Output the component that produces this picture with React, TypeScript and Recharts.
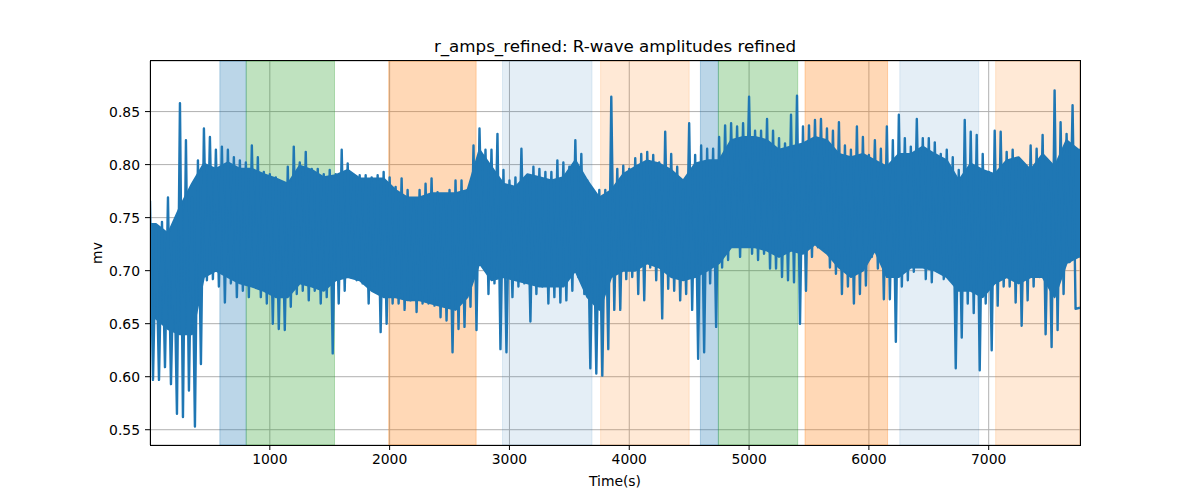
import { ComposedChart, Line, Area, XAxis, YAxis, CartesianGrid, ReferenceArea } from 'recharts';

// r-wave amplitude excursions, every 50 s (highest / lowest spike)
const stepSeconds = 50;
const peakHi = [
    0.766, 0.738, 0.746, 0.769, 0.727, 0.858, 0.823, 0.769, 0.804, 0.834, 0.826, 0.814, 0.817, 0.814, 0.807, 0.804, 0.802, 0.818, 0.807, 0.793, 0.791, 0.788, 0.779, 0.798, 0.817, 0.802,
    0.812, 0.796, 0.796, 0.791, 0.795, 0.791, 0.814, 0.801, 0.790, 0.790, 0.790, 0.788, 0.790, 0.793, 0.788, 0.779, 0.787, 0.776, 0.766, 0.776, 0.782, 0.787, 0.774, 0.769, 0.776, 0.785,
    0.785, 0.776, 0.818, 0.834, 0.814, 0.814, 0.829, 0.795, 0.785, 0.788, 0.815, 0.788, 0.798, 0.796, 0.793, 0.793, 0.804, 0.802, 0.798, 0.823, 0.810, 0.785, 0.773, 0.776, 0.776, 0.864,
    0.796, 0.799, 0.796, 0.806, 0.810, 0.812, 0.809, 0.802, 0.831, 0.810, 0.798, 0.776, 0.839, 0.809, 0.818, 0.815, 0.815, 0.826, 0.837, 0.839, 0.836, 0.839, 0.864, 0.832, 0.832, 0.843,
    0.832, 0.825, 0.820, 0.847, 0.865, 0.836, 0.837, 0.842, 0.843, 0.834, 0.832, 0.840, 0.818, 0.814, 0.836, 0.826, 0.809, 0.823, 0.815, 0.836, 0.823, 0.847, 0.825, 0.817, 0.843, 0.825,
    0.825, 0.821, 0.810, 0.814, 0.807, 0.795, 0.842, 0.831, 0.828, 0.810, 0.793, 0.832, 0.831, 0.812, 0.814, 0.806, 0.795, 0.818, 0.815, 0.828, 0.785, 0.870, 0.840, 0.829, 0.856,
];
const peakLo = [
    0.597, 0.597, 0.609, 0.593, 0.565, 0.562, 0.587, 0.553, 0.612, 0.691, 0.692, 0.685, 0.670, 0.688, 0.675, 0.681, 0.675, 0.685, 0.675, 0.669, 0.650, 0.645, 0.644, 0.666, 0.678, 0.681,
    0.672, 0.681, 0.669, 0.675, 0.622, 0.669, 0.681, 0.694, 0.691, 0.688, 0.669, 0.686, 0.642, 0.650, 0.669, 0.669, 0.663, 0.672, 0.661, 0.669, 0.669, 0.667, 0.656, 0.653, 0.623, 0.645,
    0.647, 0.666, 0.644, 0.707, 0.678, 0.688, 0.626, 0.623, 0.675, 0.685, 0.688, 0.652, 0.678, 0.685, 0.669, 0.675, 0.670, 0.672, 0.681, 0.694, 0.678, 0.608, 0.603, 0.601, 0.626, 0.663,
    0.663, 0.692, 0.694, 0.678, 0.672, 0.703, 0.691, 0.655, 0.683, 0.681, 0.672, 0.678, 0.663, 0.617, 0.623, 0.688, 0.647, 0.703, 0.710, 0.725, 0.713, 0.732, 0.716, 0.710, 0.716, 0.702,
    0.702, 0.694, 0.691, 0.689, 0.650, 0.681, 0.713, 0.722, 0.722, 0.703, 0.697, 0.678, 0.685, 0.669, 0.678, 0.686, 0.713, 0.702, 0.673, 0.673, 0.633, 0.685, 0.691, 0.699, 0.710, 0.692,
    0.689, 0.699, 0.692, 0.694, 0.608, 0.637, 0.669, 0.660, 0.606, 0.669, 0.625, 0.667, 0.685, 0.685, 0.670, 0.648, 0.672, 0.685, 0.694, 0.640, 0.628, 0.644, 0.678, 0.708, 0.664,
];
const endTime = 7762;
const endValue = 0.665;

// edges of the solid part of the band, every 100 s (centred on each interval)
const fillStep = 100;
const fillHi = [
    0.744, 0.735, 0.760, 0.782, 0.801, 0.796, 0.802, 0.796, 0.796, 0.791, 0.787, 0.782, 0.799, 0.795, 0.788, 0.790, 0.795, 0.787, 0.787, 0.787, 0.776, 0.769, 0.769, 0.773, 0.773, 0.773,
    0.776, 0.814, 0.798, 0.782, 0.779, 0.791, 0.788, 0.785, 0.788, 0.804, 0.785, 0.769, 0.776, 0.791, 0.798, 0.804, 0.801, 0.795, 0.785, 0.801, 0.804, 0.804, 0.823, 0.826, 0.826, 0.823,
    0.814, 0.817, 0.820, 0.826, 0.823, 0.810, 0.807, 0.810, 0.804, 0.798, 0.810, 0.810, 0.817, 0.810, 0.804, 0.785, 0.801, 0.795, 0.791, 0.804, 0.807, 0.795, 0.810, 0.798, 0.823, 0.814,
];
const fillLo = [
    0.655, 0.645, 0.640, 0.640, 0.694, 0.700, 0.694, 0.688, 0.685, 0.681, 0.675, 0.675, 0.688, 0.685, 0.681, 0.691, 0.694, 0.691, 0.681, 0.675, 0.675, 0.672, 0.672, 0.669, 0.666, 0.663,
    0.675, 0.707, 0.691, 0.694, 0.691, 0.688, 0.685, 0.685, 0.685, 0.700, 0.675, 0.663, 0.694, 0.700, 0.700, 0.707, 0.703, 0.694, 0.691, 0.694, 0.700, 0.707, 0.722, 0.722, 0.722, 0.719,
    0.713, 0.719, 0.716, 0.725, 0.716, 0.703, 0.694, 0.700, 0.719, 0.694, 0.694, 0.703, 0.703, 0.700, 0.694, 0.681, 0.681, 0.675, 0.688, 0.694, 0.688, 0.694, 0.694, 0.675, 0.707, 0.713,
];

// shaded stages
const spanStart = [583, 803, 1992, 2942, 3761, 4594, 4744, 5467, 6258, 7058];
const spanEnd = [803, 1540, 2722, 3689, 4500, 4744, 5406, 6156, 6917, 7762];
const spanColor = ['#1f77b4', '#2ca02c', '#ff7f0e', '#1f77b4', '#ff7f0e', '#1f77b4', '#2ca02c', '#ff7f0e', '#1f77b4', '#ff7f0e'];
const spanAlpha = [0.3, 0.3, 0.3, 0.12, 0.17, 0.3, 0.3, 0.3, 0.12, 0.17];

const xTicks = [1000, 2000, 3000, 4000, 5000, 6000, 7000];
const yTicks = [0.55, 0.6, 0.65, 0.7, 0.75, 0.8, 0.85];

type Row = { t: number; v?: number; band?: [number, number] };

const rowMap = new Map<number, Row>();
const rowAt = (t: number) => {
    let r = rowMap.get(t);
    if (!r) {
        r = { t };
        rowMap.set(t, r);
    }
    return r;
};
peakHi.forEach((hi, i) => {
    rowAt(i * stepSeconds).v = hi;
    rowAt(i * stepSeconds + stepSeconds / 2).v = peakLo[i];
});
rowAt(endTime).v = endValue;
fillHi.forEach((hi, i) => {
    rowAt(i * fillStep + fillStep / 2).band = [fillLo[i], hi];
});
// first and last band readings also cover the half intervals at the plot edges
rowAt(0).band = [fillLo[0], fillHi[0]];
rowAt(endTime).band = [fillLo[fillLo.length - 1], fillHi[fillHi.length - 1]];
const data = [...rowMap.values()].sort((a, b) => a.t - b.t);

const font = 'DejaVu Sans, sans-serif';
const tickStyle = { fill: '#000', fontSize: 13.9, fontFamily: font };

export default function App() {
    return (
        <div style={{ position: 'absolute', left: 0, top: 0, width: 1200, height: 500, background: '#fff', fontFamily: font }}>
            <div style={{ position: 'absolute', left: 150, width: 930, top: 36, height: 20, lineHeight: '20px', textAlign: 'center', fontSize: 16.7, color: '#000' }}>
                r_amps_refined: R-wave amplitudes refined
            </div>
            <ComposedChart width={1200} height={500} data={data} margin={{ top: 61, right: 120, bottom: 25, left: 0 }}>
                {spanStart.map((s, i) => (
                    <ReferenceArea
                        key={i}
                        x1={s}
                        x2={spanEnd[i]}
                        fill={spanColor[i]}
                        fillOpacity={spanAlpha[i]}
                        stroke={spanColor[i]}
                        strokeOpacity={spanAlpha[i]}
                        ifOverflow="hidden"
                    />
                ))}
                <CartesianGrid stroke="#b0b0b0" strokeWidth={1} />
                <XAxis
                    dataKey="t"
                    type="number"
                    domain={[0, endTime]}
                    ticks={xTicks}
                    height={30}
                    tickSize={5}
                    tickMargin={4}
                    axisLine={false}
                    tickLine={{ stroke: '#000' }}
                    tick={tickStyle}
                    allowDataOverflow
                />
                <YAxis
                    type="number"
                    domain={[0.5356, 0.8977]}
                    ticks={yTicks}
                    width={150}
                    tickSize={5}
                    tickMargin={5}
                    axisLine={false}
                    tickLine={{ stroke: '#000' }}
                    tick={tickStyle}
                    tickFormatter={(v: number) => v.toFixed(2)}
                    allowDataOverflow
                />
                <Area
                    dataKey="band"
                    type="linear"
                    connectNulls
                    fill="#1f77b4"
                    fillOpacity={1}
                    stroke="#1f77b4"
                    strokeWidth={2}
                    strokeLinejoin="round"
                    isAnimationActive={false}
                />
                <Line
                    dataKey="v"
                    type="linear"
                    connectNulls
                    stroke="#1f77b4"
                    strokeWidth={2.4}
                    strokeLinejoin="round"
                    dot={false}
                    isAnimationActive={false}
                />
            </ComposedChart>
            <div style={{ position: 'absolute', left: 150, top: 60, width: 931, height: 386, border: '1px solid #000', boxSizing: 'border-box', pointerEvents: 'none' }} />
            <div style={{ position: 'absolute', left: 97, top: 253, transform: 'translate(-50%, -50%) rotate(-90deg)', fontSize: 13.9, color: '#000', whiteSpace: 'nowrap' }}>
                mv
            </div>
            <div style={{ position: 'absolute', left: 615, top: 481, transform: 'translate(-50%, -50%)', fontSize: 13.9, color: '#000', whiteSpace: 'nowrap' }}>
                Time(s)
            </div>
        </div>
    );
}
